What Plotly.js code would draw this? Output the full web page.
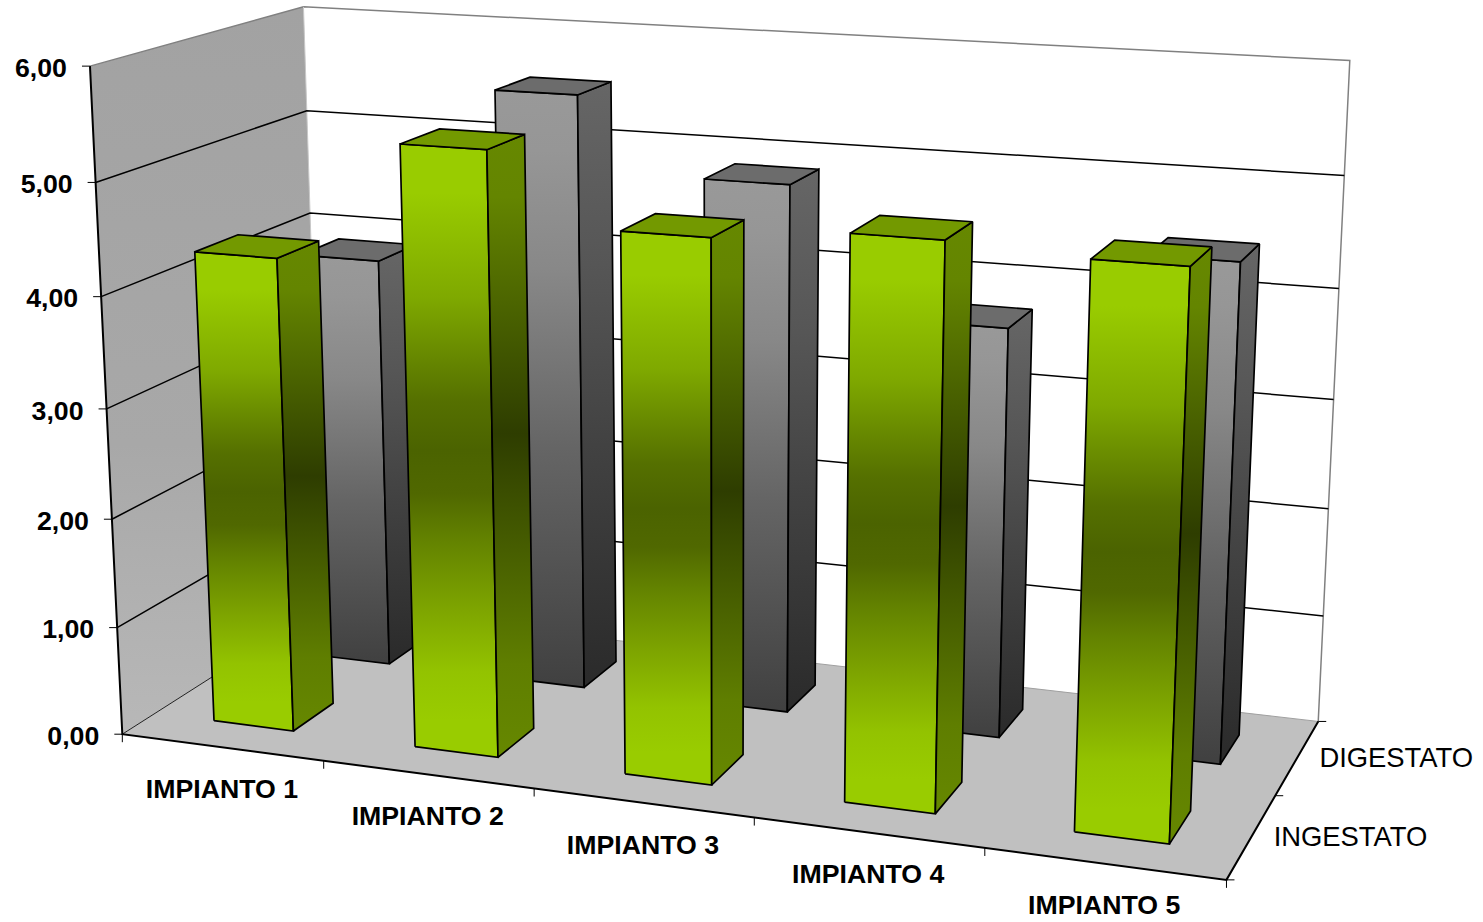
<!DOCTYPE html>
<html>
<head>
<meta charset="utf-8">
<script src="https://cdn.plot.ly/plotly-3.0.1.min.js"></script>
<style>html,body{margin:0;padding:0;background:#fff}</style>
</head>
<body>
<div id="chart" style="width:1483px;height:922px"></div>
<script>
// Chart data
const categories = ['IMPIANTO 1', 'IMPIANTO 2', 'IMPIANTO 3', 'IMPIANTO 4', 'IMPIANTO 5'];
const seriesNames = ['INGESTATO', 'DIGESTATO'];
const ingestato = [4.32, 5.39, 4.78, 4.9, 4.83];
const digestato = [3.9, 5.55, 4.87, 3.74, 4.47];
const valueTicks = [0, 1, 2, 3, 4, 5, 6];
const tickLabels = ['0,00', '1,00', '2,00', '3,00', '4,00', '5,00', '6,00'];

// Perspective camera: world (category, value, depth) -> page position
const CAMERA = [
  194.4033, -6.156238, 119.3537, 122.3224,
  10.17715, -111.9035, -27.76148, 734.1898,
  -0.02154678, -0.008501703, 0.05948486
];
function project(X, Y, Z) {
  const c = CAMERA, w = c[8]*X + c[9]*Y + c[10]*Z + 1;
  return [(c[0]*X + c[1]*Y + c[2]*Z + c[3]) / w, (c[4]*X + c[5]*Y + c[6]*Z + c[7]) / w];
}

const traces = [];
function face(corners, fill, lineColor, width, name) {
  const pts = corners.concat([corners[0]]).map(c => project(c[0], c[1], c[2]));
  const t = {
    x: pts.map(p => p[0]), y: pts.map(p => p[1]), mode: 'lines', fill: 'toself', name: name || '',
    line: {color: lineColor, width: width}, hoverinfo: 'skip', showlegend: false
  };
  if (Array.isArray(fill)) {
    const ys = pts.map(p => p[1]);
    t.fillgradient = {type: 'vertical', start: Math.min(...ys), stop: Math.max(...ys), colorscale: fill};
    t.fillcolor = 'rgba(0,0,0,0)';
  } else t.fillcolor = fill;
  traces.push(t);
}
function polyline(segments, color, width) {
  const x = [], y = [];
  segments.forEach(seg => { seg.forEach(p => { x.push(p[0]); y.push(p[1]); }); x.push(null); y.push(null); });
  traces.push({x, y, mode: 'lines', line: {color, width}, hoverinfo: 'skip', showlegend: false});
}

// Walls and floor
const maxValue = valueTicks[valueTicks.length - 1];
const nCat = categories.length, nSer = seriesNames.length;
face([[0,0,nSer],[nCat,0,nSer],[nCat,maxValue,nSer],[0,maxValue,nSer]], '#ffffff', 'rgba(0,0,0,0)', 0);
face([[0,0,0],[0,0,nSer],[0,maxValue,nSer],[0,maxValue,0]],
     [[0,'#a2a2a2'],[0.6,'#a8a8a8'],[1,'#b8b8b8']], 'rgba(0,0,0,0)', 0);
polyline([[project(0,maxValue,0),project(0,maxValue,nSer),project(nCat,maxValue,nSer),project(nCat,0,nSer)]], '#808080', 1.5);
polyline([[project(0,0,nSer),project(0,maxValue,nSer)]], '#c8c8c8', 1);
polyline(valueTicks.filter(v => v > 0 && v < maxValue).map(v =>
  [project(0,v,0),project(0,v,nSer),project(nCat,v,nSer)]), '#000000', 1.5);
face([[0,0,0],[nCat,0,0],[nCat,0,nSer],[0,0,nSer]], '#c0c0c0', 'rgba(0,0,0,0)', 0);
polyline([[project(0,0,nSer),project(nCat,0,nSer)]], '#a0a0a0', 1);
polyline([[project(0,0,0),project(0,0,nSer)]], '#202020', 1);

// Bars: far series first so the near series paints over it
const GREEN = {
  front: [[0,'#99cc00'],[0.08,'#99cc00'],[0.25,'#7fa900'],[0.35,'#668700'],[0.42,'#557000'],[0.5,'#4b6300'],
          [0.57,'#506800'],[0.65,'#648400'],[0.76,'#7ea500'],[0.86,'#93c300'],[0.94,'#99cc00'],[1,'#99cc00']],
  side: [[0,'#668800'],[0.1,'#648500'],[0.48,'#2e3d00'],[0.85,'#5f7e00'],[1,'#668800']],
  cap: '#739900'
};
const GREY = {
  front: [[0,'#999999'],[0.1,'#969696'],[0.3,'#888888'],[0.6,'#656565'],[1,'#404040']],
  side: [[0,'#666666'],[0.3,'#565656'],[0.6,'#424242'],[1,'#2a2a2a']],
  cap: '#6c6c6c'
};
const EDGE = 1.7;
function bar(i, s, v, style, name) {
  const x0 = i + 0.3, x1 = i + 0.7, z0 = s + 0.3, z1 = s + 0.7;
  face([[x0,0,z0],[x1,0,z0],[x1,v,z0],[x0,v,z0]], style.front, '#000000', EDGE, name);
  face([[x1,0,z0],[x1,0,z1],[x1,v,z1],[x1,v,z0]], style.side, '#000000', EDGE, name);
  face([[x0,v,z0],[x1,v,z0],[x1,v,z1],[x0,v,z1]], style.cap, '#000000', EDGE, name);
}
digestato.forEach((v, i) => bar(i, 1, v, GREY, seriesNames[1]));
ingestato.forEach((v, i) => bar(i, 0, v, GREEN, seriesNames[0]));

// Axes and tick marks
const TICK = 8;
polyline([[project(0,maxValue,0),project(0,0,0),project(nCat,0,0),project(nCat,0,nSer)]], '#000000', 2);
polyline(valueTicks.map(v => { const p = project(0,v,0); return [[p[0]-TICK,p[1]],p]; }), '#000000', 1);
polyline(categories.map((c, i) => { const p = project(i+1,0,0); return [p,[p[0],p[1]+TICK]]; }).concat(
  [[project(0,0,0),[project(0,0,0)[0],project(0,0,0)[1]+TICK]]]), '#000000', 1);
polyline([0,1,2].map(s => { const p = project(nCat,0,s); return [p,[p[0]+TICK,p[1]]]; }), '#000000', 1);

// Text labels
function labels(texts, anchors, position, weight, size) {
  traces.push({
    x: anchors.map(a => a[0]), y: anchors.map(a => a[1]), text: texts, mode: 'text', textposition: position,
    textfont: {family: 'Liberation Sans, Arial, sans-serif', size, color: '#000000', weight},
    hoverinfo: 'skip', showlegend: false, cliponaxis: false
  });
}
labels(tickLabels, valueTicks.map(v => { const p = project(0,v,0); return [p[0]-23,p[1]+4]; }), 'middle left', 700, 26.7);
labels(categories, categories.map((c,i) => { const p = project(i+0.5,0,0); return [p[0],p[1]+44]; }), 'middle center', 700, 26.7);
labels(seriesNames, seriesNames.map((c,s) => { const p = project(nCat,0,s+0.5); return [p[0]+22,p[1]+3]; }), 'middle right', 400, 27.4);

Plotly.newPlot('chart', traces, {
  width: 1483, height: 922, margin: {l:0, r:0, t:0, b:0},
  paper_bgcolor: '#ffffff', plot_bgcolor: '#ffffff', showlegend: false,
  xaxis: {range: [0,1483], visible: false, fixedrange: true},
  yaxis: {range: [922,0], visible: false, fixedrange: true}
}, {displayModeBar: false, staticPlot: true});
</script>
</body>
</html>
